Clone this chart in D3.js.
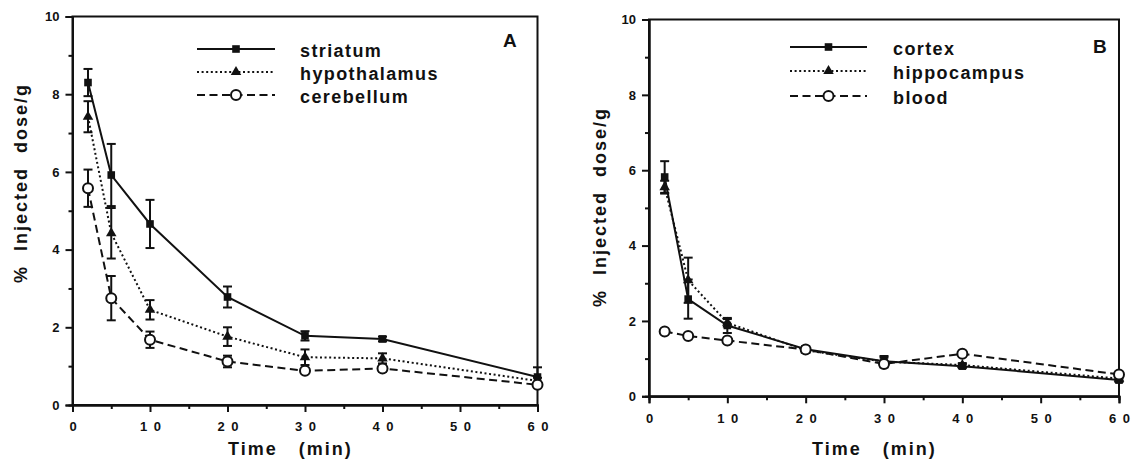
<!DOCTYPE html>
<html><head><meta charset="utf-8">
<script src="https://cdn.jsdelivr.net/npm/d3@7"></script>
<style>
body{margin:0;background:#fff}
svg{display:block;font-family:"Liberation Sans",Arial,Helvetica,sans-serif;font-weight:bold;fill:#111}
</style>
</head><body>
<svg id="c" width="1132" height="461"></svg>
<script>
// ---- data ----
const times = [2, 5, 10, 20, 30, 40, 60];
const striatum     = [8.30, 5.92, 4.66, 2.78, 1.78, 1.70, 0.72];
const striatumErr  = [0.35, 0.80, 0.62, 0.27, 0.12, 0.06, 0.25];
const hypothalamus = [7.42, 4.42, 2.45, 1.76, 1.23, 1.20, 0.62];
const hypothalErr  = [0.40, 0.65, 0.25, 0.24, 0.20, 0.13, 0.08];
const cerebellum   = [5.58, 2.75, 1.68, 1.12, 0.88, 0.94, 0.52];
const cerebelErr   = [0.48, 0.57, 0.21, 0.15, 0.05, 0.08, 0.05];
const cortex       = [5.82, 2.58, 1.88, 1.25, 0.93, 0.80, 0.43];
const cortexErr    = [0.42, 0.52, 0.20, 0.08, 0.10, 0.05, 0.05];
const hippocampus  = [5.55, 3.08, 1.95, 1.22, 0.92, 0.83, 0.47];
const hippoErr     = [0.17, 0.60, 0.10, 0.06, 0.15, 0.05, 0.05];
const blood        = [1.72, 1.60, 1.48, 1.24, 0.86, 1.13, 0.58];
const bloodErr     = [0, 0, 0, 0, 0, 0, 0];
const xTicks = [0, 10, 20, 30, 40, 50, 60];
const xMinor = [5, 15, 25, 35, 45, 55];
const yTicks = [0, 2, 4, 6, 8, 10];
const yMinor = [1, 3, 5, 7, 9];
const namesA = ["striatum", "hypothalamus", "cerebellum"];
const namesB = ["cortex", "hippocampus", "blood"];
const panelLetters = ["A", "B"];
const xTitle = "Time   (min)";
const yTitle = "%  Injected  dose/g";

// ---- styles per series slot ----
const styles = [
  {dash: null, marker: "square"},
  {dash: "2,2.6", marker: "triangle"},
  {dash: "8,4.5", marker: "circle"}
];

const svg = d3.select("#c");

const panels = [
  {letter: panelLetters[0], names: namesA, vals: [striatum, hypothalamus, cerebellum], errs: [striatumErr, hypothalErr, cerebelErr],
   L: 72.5, R: 537.5, T: 16.5, B: 405,
   leg: {x1: 197, x2: 275, tx: 300, ys: [49, 72, 95]}, letterPos: [503, 47],
   yTitle: {x: 27, cy: 183}, xTitleX: 228},
  {letter: panelLetters[1], names: namesB, vals: [cortex, hippocampus, blood], errs: [cortexErr, hippoErr, bloodErr],
   L: 649, R: 1119, T: 19.5, B: 396.3,
   leg: {x1: 790, x2: 867, tx: 893, ys: [47, 71, 96]}, letterPos: [1093, 53],
   yTitle: {x: 606, cy: 207}, xTitleX: 812}
];

function marker(g, type, x, y) {
  if (type === "square") {
    g.append("rect").attr("x", x - 3.8).attr("y", y - 3.8).attr("width", 7.6).attr("height", 7.6)
      .attr("fill", "#111");
  } else if (type === "triangle") {
    g.append("path").attr("d", d3.symbol(d3.symbolTriangle, 48)()).attr("transform", `translate(${x},${y})`)
      .attr("fill", "#111");
  } else {
    g.append("circle").attr("cx", x).attr("cy", y).attr("r", 5).attr("fill", "#fff")
      .attr("stroke", "#111").attr("stroke-width", 2);
  }
}

panels.forEach(p => {
  const x = d3.scaleLinear().domain([0, 60]).range([p.L, p.R]);
  const y = d3.scaleLinear().domain([0, 10]).range([p.B, p.T]);
  const g = svg.append("g");

  // frame
  g.append("rect").attr("x", p.L).attr("y", p.T).attr("width", p.R - p.L).attr("height", p.B - p.T)
    .attr("fill", "none").attr("stroke", "#111").attr("stroke-width", 2);

  // axes
  const xa = g.append("g").attr("transform", `translate(0,${p.B})`)
    .call(d3.axisBottom(x).tickValues(xTicks).tickSize(7).tickPadding(10)
      .tickFormat(d => String(d).split("").join("\u2002")));
  const xm = g.append("g").attr("transform", `translate(0,${p.B})`)
    .call(d3.axisBottom(x).tickValues(xMinor).tickSize(4).tickFormat(""));
  const ya = g.append("g").attr("transform", `translate(${p.L},0)`)
    .call(d3.axisLeft(y).tickValues(yTicks).tickSize(7).tickPadding(6));
  const ym = g.append("g").attr("transform", `translate(${p.L},0)`)
    .call(d3.axisLeft(y).tickValues(yMinor).tickSize(4).tickFormat(""));
  [xa, xm, ya, ym].forEach(a => {
    a.select(".domain").attr("stroke", "#111").attr("stroke-width", 2);
    a.selectAll(".tick line").attr("stroke", "#111").attr("stroke-width", 2);
    a.selectAll(".tick text").attr("fill", "#111").style("font-size", "13px").style("font-weight", "bold")
      .style("font-family", '"Liberation Sans",Arial,sans-serif');
  });

  // series
  p.vals.forEach((vals, i) => {
    const st = styles[i];
    const pts = times.map((t, j) => [t, vals[j], p.errs[i][j]]);
    const line = d3.line().x(d => x(d[0])).y(d => y(d[1]));
    g.append("path").attr("d", line(pts)).attr("fill", "none").attr("stroke", "#111")
      .attr("stroke-width", 2).attr("stroke-dasharray", st.dash);
    // error bars
    pts.forEach(d => {
      if (d[2] <= 0) return;
      const cx = x(d[0]), y1 = y(d[1] + d[2]), y2 = y(d[1] - d[2]);
      g.append("line").attr("x1", cx).attr("x2", cx).attr("y1", y1).attr("y2", y2)
        .attr("stroke", "#111").attr("stroke-width", 2);
      [y1, y2].forEach(yy => g.append("line").attr("x1", cx - 4.5).attr("x2", cx + 4.5)
        .attr("y1", yy).attr("y2", yy).attr("stroke", "#111").attr("stroke-width", 2));
    });
    pts.forEach(d => marker(g, st.marker, x(d[0]), y(d[1])));

    // legend
    const ly = p.leg.ys[i];
    g.append("line").attr("x1", p.leg.x1).attr("x2", p.leg.x2).attr("y1", ly).attr("y2", ly)
      .attr("stroke", "#111").attr("stroke-width", 2).attr("stroke-dasharray", st.dash);
    marker(g, st.marker, (p.leg.x1 + p.leg.x2) / 2, ly);
    g.append("text").attr("x", p.leg.tx).attr("y", ly + 7.5).text(p.names[i])
      .style("font-size", "18px").style("letter-spacing", "1.4px");
  });

  // panel letter
  g.append("text").attr("x", p.letterPos[0]).attr("y", p.letterPos[1]).text(p.letter)
    .style("font-size", "19px");

  // axis titles
  g.append("text").attr("x", p.xTitleX).attr("y", 455).text(xTitle)
    .style("font-size", "18px").style("letter-spacing", "2px").style("white-space", "pre");
  g.append("text").attr("transform", `translate(${p.yTitle.x},${p.yTitle.cy}) rotate(-90)`)
    .attr("text-anchor", "middle").text(yTitle)
    .style("font-size", "18px").style("letter-spacing", "2px").style("white-space", "pre");
});
</script>
</body></html>
